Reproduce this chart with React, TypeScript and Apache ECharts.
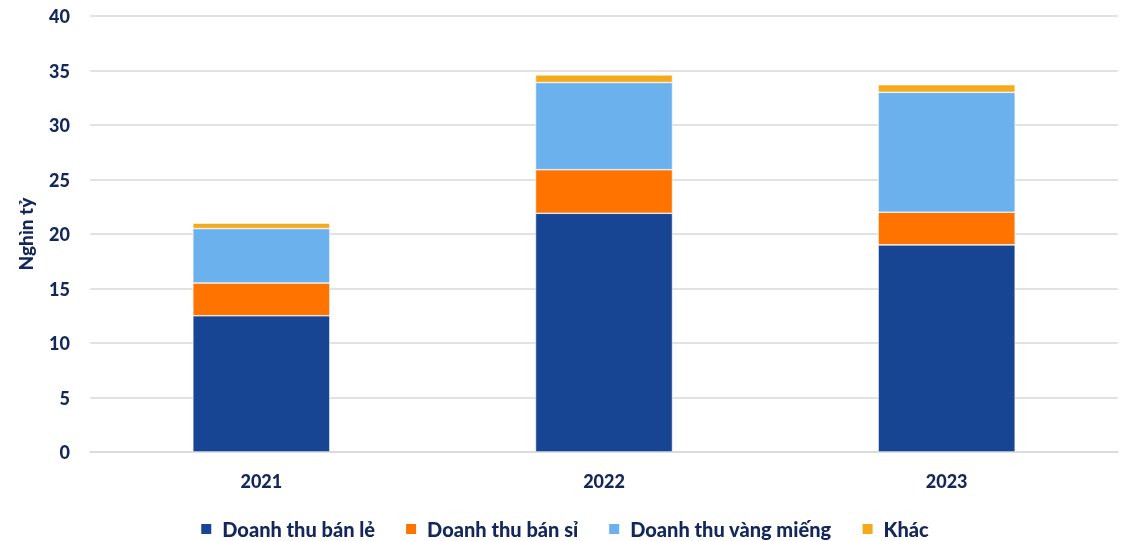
import React, { useEffect, useRef } from "react";
import * as echarts from "echarts";

const categories = ["2021", "2022", "2023"];
const retail = [12.5, 21.9, 19.0];
const wholesale = [3.0, 4.0, 3.0];
const goldBars = [5.0, 8.0, 11.0];
const other = [0.5, 0.7, 0.7];
const seriesNames = ["Doanh thu bán lẻ", "Doanh thu bán sỉ", "Doanh thu vàng miếng", "Khác"];
const colors = ["#174594", "#FF7300", "#6BB1EE", "#F4AA1A"];

const textColor = "#13275A";
const font = "Lato";
const weight = 900;

export default function App() {
  const ref = useRef<HTMLDivElement>(null);
  useEffect(() => {
    if (!ref.current) return;
    document.body.style.margin = "0";
    document.body.style.overflow = "hidden";
    const chart = echarts.init(ref.current, null, { renderer: "svg" });
    const data = [retail, wholesale, goldBars, other];
    chart.setOption({
      animation: false,
      color: colors,
      grid: { left: 90, right: 10, top: 16, bottom: 89, containLabel: false },
      legend: {
        top: 513,
        left: "center",
        itemWidth: 12,
        itemHeight: 12,
        itemGap: 29,
        icon: "rect",
        textStyle: {
          color: textColor,
          fontFamily: font,
          fontWeight: weight,
          fontSize: 20,
          lineHeight: 22,
          padding: [0, 0, 0, 5],
        },
        data: seriesNames,
      },
      xAxis: {
        type: "category",
        data: categories,
        axisLine: { lineStyle: { color: "#D9D9D9", width: 1.5 } },
        axisTick: { show: false },
        axisLabel: { color: textColor, fontFamily: font, fontWeight: weight, fontSize: 18, margin: 20 },
      },
      yAxis: {
        type: "value",
        min: 0,
        max: 40,
        interval: 5,
        name: "Nghìn tỷ",
        nameLocation: "middle",
        nameGap: 55,
        nameRotate: 90,
        nameTextStyle: { color: textColor, fontFamily: font, fontWeight: weight, fontSize: 19 },
        axisLine: { show: false },
        axisTick: { show: false },
        axisLabel: { color: textColor, fontFamily: font, fontWeight: weight, fontSize: 18, margin: 20 },
        splitLine: { lineStyle: { color: "#D9D9D9", width: 1.5 } },
      },
      series: seriesNames.map((name, i) => ({
        name,
        type: "bar",
        stack: "total",
        barWidth: "40%",
        data: data[i],
        itemStyle: { color: colors[i], borderColor: "#ffffff", borderWidth: 0.6 },
      })),
    });
    return () => chart.dispose();
  }, []);
  return <div ref={ref} style={{ position: "fixed", left: 0, top: 0, width: 1128, height: 541 }} />;
}
